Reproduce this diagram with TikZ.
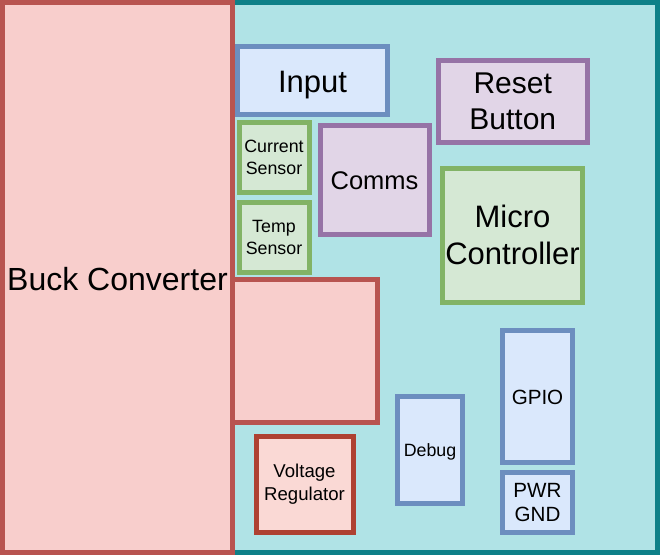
\documentclass[tikz,border=0pt]{standalone}
\usepackage{fontspec}
\setmainfont{Liberation Sans}
\definecolor{tealF}{HTML}{B0E3E6}
\definecolor{tealS}{HTML}{0E8088}
\definecolor{redF}{HTML}{F8CECC}
\definecolor{redS}{HTML}{B85450}
\definecolor{vrF}{HTML}{FAD9D5}
\definecolor{vrS}{HTML}{AE4132}
\definecolor{blueF}{HTML}{DAE8FC}
\definecolor{blueS}{HTML}{6C8EBF}
\definecolor{greenF}{HTML}{D5E8D4}
\definecolor{greenS}{HTML}{82B366}
\definecolor{purpleF}{HTML}{E1D5E7}
\definecolor{purpleS}{HTML}{9673A6}
\tikzset{
  blk/.style={draw, line width=5pt, inner sep=0pt, align=center, text=black},
  tealbox/.style={blk, fill=tealF, draw=tealS},
  redbox/.style={blk, fill=redF, draw=redS},
  vrbox/.style={blk, fill=vrF, draw=vrS},
  bluebox/.style={blk, fill=blueF, draw=blueS},
  greenbox/.style={blk, fill=greenF, draw=greenS},
  purplebox/.style={blk, fill=purpleF, draw=purpleS},
  big/.style={font=\fontsize{31}{37}\selectfont},
  mid/.style={font=\fontsize{25.5}{30.6}\selectfont},
  med/.style={font=\fontsize{20.6}{24}\selectfont},
  small/.style={font=\fontsize{17.8}{21.4}\selectfont},
  vrsmall/.style={font=\fontsize{18.6}{22.4}\selectfont},
}
\begin{document}
\begin{tikzpicture}[x=1pt, y=-1pt]
\useasboundingbox (0,0) rectangle (660,555);
\node[tealbox, minimum width=655pt, minimum height=550pt] (board) at (330,277.5) {};
\node[redbox, font=\fontsize{32}{38}\selectfont, text height=25pt, text depth=0pt, minimum width=230pt, minimum height=550pt] (buck) at (117.5,277.5) {Buck Converter};
\node[redbox, minimum width=145pt, minimum height=143pt] (blank) at (305,351) {};
\node[bluebox, big, text height=24pt, text depth=0pt, minimum width=150pt, minimum height=68pt] (input) at (312.5,80) {Input};
\node[greenbox, small, minimum width=70pt, minimum height=70pt] (current) at (274,157.5) {Current\\Sensor};
\node[greenbox, small, minimum width=70pt, minimum height=70pt] (temp) at (274,237.5) {Temp\\Sensor};
\node[purplebox, mid, text height=20pt, text depth=0pt, minimum width=109pt, minimum height=109pt] (comms) at (374.5,179.5) {Comms};
\node[purplebox, font=\fontsize{30}{36}\selectfont, minimum width=149.5pt, minimum height=82.5pt] (reset) at (512.75,101.25) {Reset\\Button};
\node[greenbox, big, minimum width=140pt, minimum height=134.5pt] (micro) at (512.5,235.25) {Micro\\Controller};
\node[vrbox, vrsmall, minimum width=97pt, minimum height=96pt] (vreg) at (304.5,484) {Voltage\\Regulator};
\node[bluebox, small, text height=13pt, text depth=0pt, minimum width=65pt, minimum height=106.5pt] (debug) at (430,449.75) {Debug};
\node[bluebox, med, text height=16pt, text depth=0pt, minimum width=70pt, minimum height=132.5pt] (gpio) at (537.5,396.25) {GPIO};
\node[bluebox, med, minimum width=70pt, minimum height=59.5pt] (pwr) at (537.5,502.25) {PWR\\GND};
\end{tikzpicture}
\end{document}
